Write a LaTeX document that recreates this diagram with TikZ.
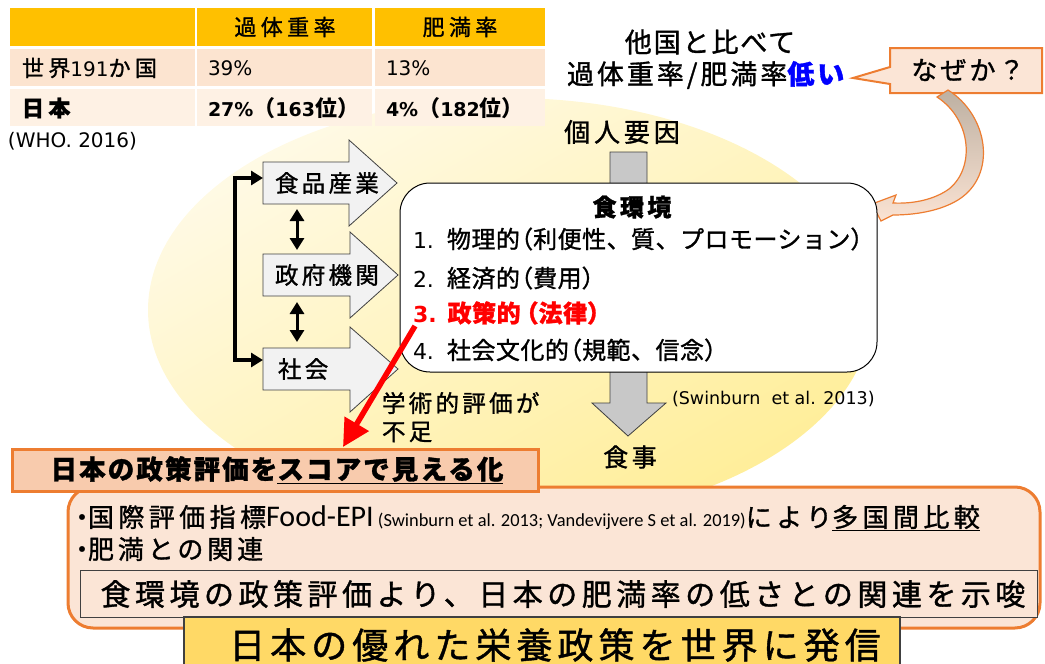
\documentclass[tikz,border=0pt]{standalone}
\usepackage{fontspec}
\setmainfont{Noto Sans CJK JP}
\newfontfamily\dv{DejaVu Sans}
\newfontfamily\carl{Carlito}
\usetikzlibrary{arrows.meta}
\definecolor{orng}{HTML}{ED7D31}
\definecolor{peach}{HTML}{FBE5D6}
\definecolor{peachdk}{HTML}{F8CBAD}
\definecolor{gold}{HTML}{FFD966}
\definecolor{thead}{HTML}{FFC000}
\definecolor{trowa}{HTML}{FCE4D0}
\definecolor{trowb}{HTML}{FEF1E4}
\definecolor{ylight}{HTML}{FFFAE6}
\definecolor{ydark}{HTML}{FFEE99}
\definecolor{grayfill}{HTML}{C8C8C8}
\definecolor{arrfill}{HTML}{F2F2F2}
\definecolor{arrline}{HTML}{404040}
\definecolor{pureblue}{HTML}{0000FF}
\definecolor{purered}{HTML}{FF0000}
\definecolor{curvetop}{HTML}{BDB0A2}
\definecolor{curvebot}{HTML}{FBE3D3}
\newcommand\fz[1]{\fontsize{#1}{#1}\selectfont}
\newcommand\ls[1]{\addfontfeatures{LetterSpace=#1,FakeBold=1.2}}
\newcommand\lp{\makebox[0.55em][r]{（}}
\newcommand\rp{\makebox[0.55em][l]{）}}
\begin{document}
\begin{tikzpicture}[x=1pt,y=-1pt,
  every node/.style={inner sep=0pt,outer sep=0pt},
  blockarr/.style={fill=arrfill,draw=arrline,line width=0.8pt,line join=miter},
  grayarr/.style={fill=grayfill,draw=arrline,line width=0.8pt},
  dblarr/.style={line width=3pt,{Triangle[width=14pt,length=12pt]}-{Triangle[width=14pt,length=12pt]}},
  bracketarr/.style={line width=3.5pt,{Triangle[width=14pt,length=12pt]}-{Triangle[width=14pt,length=12pt]}},
  redarr/.style={purered,line width=5.5pt,-{Triangle[width=27pt,length=27pt]}},
  lefttxt/.style={anchor=west,font=\fz{23.5}\ls{14}},
  itemtxt/.style={anchor=west,font=\fz{24}\ls{2}},
]
\useasboundingbox (0,0) rectangle (1045,664);
% background ellipse
\shade[top color=ylight,bottom color=ydark,shading angle=30] (510,310) ellipse [x radius=362pt,y radius=212pt];

% table
\fill[thead] (10,8) rectangle (195,46);
\fill[thead] (197,8) rectangle (372,46);
\fill[thead] (375,8) rectangle (545,46);
\fill[trowa] (10,49) rectangle (195,86);
\fill[trowa] (197,49) rectangle (372,86);
\fill[trowa] (375,49) rectangle (545,86);
\fill[trowb] (10,89) rectangle (195,126);
\fill[trowb] (197,89) rectangle (372,126);
\fill[trowb] (375,89) rectangle (545,126);
\node[font=\fz{22}\ls{20}] (hOver) at (285,27) {過体重率};
\node[font=\fz{22}\ls{20}] (hObes) at (460,27) {肥満率};
\node[anchor=west,font=\fz{22}] (rWorld) at (22,68) {{\ls{20}世界}{\dv\fz{20}191}{\ls{20}か国}};
\node[anchor=west,font=\dv\fz{20}] (rWa) at (208,68) {39\%};
\node[anchor=west,font=\dv\fz{20}] (rWb) at (386,68) {13\%};
\node[anchor=west,font=\fz{22}\bfseries\ls{20}] (rJp) at (22,108) {日本};
\node[anchor=west,font=\fz{22}\bfseries] (rJa) at (208,108) {{\dv\fz{19}27\%}（{\dv\fz{19}163}位）};
\node[anchor=west,font=\fz{22}\bfseries] (rJb) at (386,108) {{\dv\fz{19}4\%}（{\dv\fz{19}182}位）};
\node[anchor=west,font=\dv\fz{20}] (who) at (8,141) {(WHO. 2016)};

% top right texts
\node[font=\fz{27}\ls{7}] (cmpA) at (710,42) {他国と比べて};
\node[anchor=west,font=\fz{27}\ls{11}] (cmpB) at (567,75) {過体重率/肥満率{\color{pureblue}\bfseries 低い}};
% callout
\draw[fill=peach,draw=orng,line width=2pt,line join=miter] (890,48) -- (1042,48) -- (1042,93) -- (890,93) -- (890,84) -- (853,78) -- (890,67) -- cycle;
\node[font=\fz{26}\ls{12}] (why) at (968,70) {なぜか？};
% curved arrow
\shadedraw[top color=curvetop,bottom color=curvebot,draw=orng,line width=1.2pt,line join=miter]
  (948,90) .. controls (988,115) and (998,175) .. (958,200)
  .. controls (940,211) and (915,215) .. (893,215)
  -- (881,221) -- (872,204) -- (896,195) -- (893,203)
  .. controls (915,204) and (935,199) .. (949,189)
  .. controls (975,168) and (972,120) .. (937,97) -- cycle;

% individual factors and gray arrow
\node[font=\fz{26}\ls{15}] (indiv) at (622,132) {個人要因};
\draw[grayarr] (610,152) -- (647,152) -- (647,403) -- (666,403) -- (628,436) -- (592,403) -- (610,403) -- cycle;
\node[font=\fz{25}\ls{14}] (diet) at (630,457) {食事};

% food environment box
\node[draw=black,line width=1pt,fill=white,rounded corners=30pt,minimum width=477pt,minimum height=189pt] (env) at (638.5,277.5) {};
\node[font=\fz{24}\bfseries\ls{14}] (envT) at (632,207) {食環境};
\node[itemtxt] (itA) at (413,239) {{\dv\fz{22}1.}\hspace{13pt}物理的\lp 利便性、質、プロモーション\rp};
\node[itemtxt] (itB) at (413,278) {{\dv\fz{22}2.}\hspace{13pt}経済的\lp 費用\rp};
\node[itemtxt,text=purered,font=\fz{24}\bfseries\ls{2}] (itC) at (413,313) {{\dv\fz{22}3.}\hspace{11pt}政策的\makebox[0.75em][r]{（}法律\makebox[0.75em][l]{）}};
\node[itemtxt] (itD) at (413,350) {{\dv\fz{22}4.}\hspace{13pt}社会文化的\lp 規範、信念\rp};
\node[anchor=west,font=\dv\fz{17.5}] (cite) at (672,399) {(Swinburn\ \ et al. 2013)};

% left block arrows
\draw[blockarr] (263,162) -- (349,162) -- (349,140) -- (397,183) -- (349,226) -- (349,204) -- (263,204) -- cycle;
\draw[blockarr] (263,254) -- (350,254) -- (350,232) -- (398,275) -- (350,318) -- (350,296) -- (263,296) -- cycle;
\draw[blockarr] (263,348) -- (350,348) -- (350,327) -- (398,369) -- (350,412) -- (350,390) -- (263,390) -- cycle;
\node[lefttxt] (food) at (275,183) {食品産業};
\node[lefttxt] (gov) at (275,275) {政府機関};
\node[lefttxt] (soc) at (278,369) {社会};
\coordinate (foodIn) at (263,178);
\coordinate (socIn) at (263,360);
\coordinate (foodB) at (297,209);
\coordinate (govT) at (297,250);
\coordinate (govB) at (297,302);
\coordinate (socT) at (297,342);
\draw[bracketarr] (foodIn) -- ++(-28,0) |- (socIn);
\draw[dblarr] (foodB) -- (govT);
\draw[dblarr] (govB) -- (socT);

% red arrow and note
\coordinate (polStart) at (415,326);
\coordinate (labTop) at (343,447);
\draw[redarr] (polStart) -- (labTop);
\node[lefttxt] (acadA) at (382,403) {学術的評価が};
\node[lefttxt] (acadB) at (382,432) {不足};

% bottom area
\draw[fill=peach,draw=orng,line width=3pt,rounded corners=25pt] (68,487) rectangle (1040,628);
\node[draw=orng,line width=3pt,fill=peachdk,minimum width=526pt,minimum height=42pt] (label) at (275,470) {};
\node[font=\fz{26.5}\bfseries\ls{8}] (labelT) at (277,470) {日本の政策評価を\underline{スコアで見える化}};
\node[anchor=west,font=\fz{26}\ls{17}] (bulA) at (69,518) {・\hspace{-7pt}国際評価指標{\carl\fz{30}Food-EPI}{\carl\fz{18.4}\ (Swinburn et al. 2013; Vandevijvere S et al. 2019)}により\underline{多国間比較}};
\node[anchor=west,font=\fz{26}\ls{15}] (bulB) at (69,549) {・\hspace{-7pt}肥満との関連};
\node[draw=arrline,line width=1pt,fill=peach,minimum width=957pt,minimum height=47pt] (concl) at (558.5,593.5) {};
\node[font=\fz{30}\ls{15}] (conclT) at (563,594) {食環境の政策評価より、日本の肥満率の低さとの関連を示唆};
\node[draw=arrline,line width=1.2pt,fill=gold,minimum width=716pt,minimum height=54pt] (msg) at (542,644) {};
\node[font=\fz{36}\ls{14}] (msgT) at (555,645) {日本の優れた栄養政策を世界に発信};
\end{tikzpicture}
\end{document}
